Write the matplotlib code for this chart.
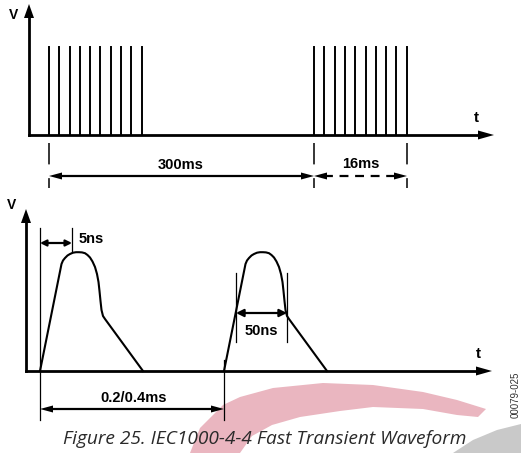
import matplotlib.pyplot as plt
from matplotlib.patches import Polygon

# burst diagram (top): pulse positions along t, in picture units
burst1_t = [49, 59, 70, 80, 90, 100, 111, 121, 131, 142]
burst2_t = [314, 324, 335, 345, 355, 366, 376, 386, 396, 407]
burst_height = 88

# single transient (bottom): shape of one pulse, offset in t and height in v
pulse_starts = [40, 224]
shape_t = [0, 21.5, 23, 25, 27.5, 30, 33, 36, 39, 42, 45, 47.5, 50, 52.5, 55,
           57, 58.5, 59.5, 60.5, 61.5, 63, 65, 103]
shape_v = [0, 107, 110.5, 113, 115.5, 117, 118.3, 118.8, 118.8, 118.6, 117.8,
           116, 113.5, 109.5, 104, 97, 89, 80, 70, 61, 55, 52, 0]

W, H = 521, 453
fig = plt.figure(figsize=(W / 100, H / 100), dpi=100)
ax = fig.add_axes([0, 0, 1, 1])
ax.set_xlim(0, W)
ax.set_ylim(H, 0)
ax.axis("off")

BOLD = dict(family="Liberation Sans", weight="bold", color="black")


def head(x, y, dx, dy, length=13, width=7):
    # filled triangle arrow head with tip at (x, y) pointing along (dx, dy)
    px, py = -dy, dx
    pts = [(x, y),
           (x - dx * length + px * width / 2, y - dy * length + py * width / 2),
           (x - dx * length - px * width / 2, y - dy * length - py * width / 2)]
    ax.add_patch(Polygon(pts, closed=True, color="black", lw=0))


def dim_arrow(x0, x1, y, ls="-"):
    ax.plot([x0 + 10, x1 - 10], [y, y], color="black", lw=1.6, ls=ls,
            dashes=(4, 3) if ls == "--" else (None, None))
    head(x0, y, -1, 0)
    head(x1, y, 1, 0)


# watermark swoosh and grey corner
swoosh = [(190, 453), (200, 428), (223, 405), (240, 397), (273, 388), (323, 383),
          (373, 385), (423, 392), (457, 400), (486, 409), (478, 417), (457, 415),
          (423, 409), (373, 407), (340, 411), (300, 417), (272, 425), (252, 436),
          (240, 453)]
ax.add_patch(Polygon(swoosh, closed=True, color="#eab6c0", lw=0, zorder=0))
corner = [(453, 453), (473, 440), (497, 430), (521, 424), (521, 453)]
ax.add_patch(Polygon(corner, closed=True, color="#c9c9c9", lw=0, zorder=0))

# ---- top: bursts ----
base1 = 135
ax.plot([29, 29], [base1, 15], color="black", lw=2)
head(29, 4, 0, -1, length=14, width=10)
ax.plot([29, 482], [base1, base1], color="black", lw=2)
head(494, base1, 1, 0, length=16, width=9)
ax.text(14, 15, "V", fontsize=10, ha="center", va="center", **BOLD)
ax.text(476, 118, "t", fontsize=11, ha="center", va="center", **BOLD)

for t in burst1_t + burst2_t:
    ax.plot([t, t], [base1, base1 - burst_height], color="black", lw=1.4)

for t in [burst1_t[0], burst2_t[0], burst2_t[-1]]:
    ax.plot([t, t], [143, 188], color="black", lw=1.1, dashes=(14, 9))

dim_arrow(burst1_t[0], burst2_t[0], 176)
dim_arrow(burst2_t[0], burst2_t[-1], 176, ls="--")
ax.text(181, 165, "300ms", fontsize=10.5, ha="center", va="center", **BOLD)
ax.text(361, 164, "16ms", fontsize=10.5, ha="center", va="center", **BOLD)

# ---- bottom: transients ----
base2 = 371
ax.plot([26, 26], [base2, 220], color="black", lw=2)
head(26, 209, 0, -1, length=14, width=10)
ax.plot([26, 480], [base2, base2], color="black", lw=2)
head(492, base2, 1, 0, length=16, width=9)
ax.text(12, 205, "V", fontsize=10, ha="center", va="center", **BOLD)
ax.text(478, 354, "t", fontsize=11, ha="center", va="center", **BOLD)

for s in pulse_starts:
    ax.plot([s + t for t in shape_t], [base2 - v for v in shape_v],
            color="black", lw=1.5, solid_joinstyle="round")

p1, p2 = pulse_starts
# 5 ns rise
ax.plot([p1, p1], [228, 420], color="black", lw=0.9)
ax.plot([72, 72], [228, 252], color="black", lw=0.9)
ax.annotate("", xy=(p1, 243), xytext=(72, 243),
            arrowprops=dict(arrowstyle="<|-|>", color="black", lw=1.6,
                            mutation_scale=9, shrinkA=0, shrinkB=0))
ax.text(79, 239, "5ns", fontsize=10.5, ha="left", va="center", **BOLD)

# 50 ns width
ax.plot([236, 236], [273, 342], color="black", lw=0.9)
ax.plot([287, 287], [273, 342], color="black", lw=0.9)
ax.annotate("", xy=(236, 313), xytext=(287, 313),
            arrowprops=dict(arrowstyle="<|-|>", color="black", lw=1.6,
                            mutation_scale=11, shrinkA=0, shrinkB=0))
ax.text(261, 331, "50ns", fontsize=10.5, ha="center", va="center", **BOLD)

# period
ax.plot([p2, p2], [360, 420], color="black", lw=0.9)
dim_arrow(p1, p2, 409)
ax.text(134, 398, "0.2/0.4ms", fontsize=10.5, ha="center", va="center", **BOLD)

ax.text(264.5, 439, "Figure 25. IEC1000-4-4 Fast Transient Waveform",
        fontsize=13.8, style="italic", family="Open Sans", color="#2a2a2a",
        ha="center", va="center")
ax.text(516, 395, "00079-025", fontsize=7, rotation=90, family="Liberation Sans",
        color="#333333", ha="center", va="center")

fig.savefig("out.png", dpi=100)
